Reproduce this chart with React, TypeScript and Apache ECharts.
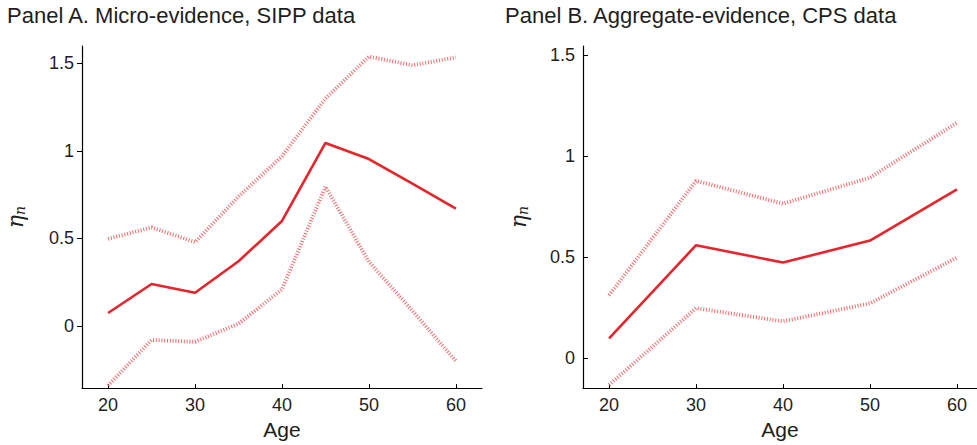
import React, { useEffect, useRef } from "react";
import * as echarts from "echarts";

const agesA = [20, 25, 30, 35, 40, 45, 50, 55, 60];
const estA = [0.074, 0.24, 0.19, 0.37, 0.6, 1.046, 0.954, 0.814, 0.671];
const upperA = [0.498, 0.563, 0.479, 0.74, 0.97, 1.3, 1.54, 1.49, 1.535];
const lowerA = [-0.34, -0.08, -0.09, 0.013, 0.21, 0.796, 0.367, 0.087, -0.2];

const agesB = [20, 30, 40, 50, 60];
const estB = [0.096, 0.558, 0.472, 0.581, 0.835];
const upperB = [0.31, 0.877, 0.764, 0.893, 1.165];
const lowerB = [-0.134, 0.246, 0.181, 0.27, 0.497];

const xTicks = [20, 30, 40, 50, 60];
const yTicks = [0, 0.5, 1, 1.5];

const titleA = "Panel A. Micro-evidence, SIPP data";
const titleB = "Panel B. Aggregate-evidence, CPS data";

const FONT = "'Liberation Sans', Arial, Helvetica, sans-serif";
const TEXT = "#1e1e1e";
const SOLID = "#e8242a";
const DOT = "#f26a6a";

const zip = (xs: number[], ys: number[]) => xs.map((x, i) => [x, ys[i]]);

function xAxis(gridIndex: number, max: number) {
  return {
    type: "value",
    gridIndex,
    min: 17,
    max,
    name: "Age",
    nameLocation: "middle",
    nameGap: 22,
    nameTextStyle: { fontSize: 21, color: TEXT, fontFamily: FONT },
    axisLine: { show: true, onZero: false, lineStyle: { color: "#000", width: 1.2 } },
    axisTick: { show: true, inside: true, length: 4, customValues: xTicks, lineStyle: { color: "#000" } },
    axisLabel: { customValues: xTicks, fontSize: 18, color: TEXT, fontFamily: FONT, margin: 8 },
    splitLine: { show: false },
  };
}

function yAxis(gridIndex: number, min: number, max: number, inside: boolean, gap: number) {
  return {
    type: "value",
    gridIndex,
    min,
    max,
    name: "{e|η}{s|n}",
    nameLocation: "middle",
    nameRotate: 90,
    nameGap: gap,
    nameTextStyle: {
      color: TEXT,
      rich: {
        e: { fontSize: 22, fontStyle: "italic", fontFamily: "'DejaVu Serif', serif", color: TEXT },
        s: { fontSize: 14, fontStyle: "italic", fontFamily: "'DejaVu Serif', serif", color: TEXT, padding: [10, 0, 0, 0] },
      },
    },
    axisLine: { show: true, onZero: false, lineStyle: { color: "#000", width: 1.2 } },
    axisTick: { show: true, inside, length: 5, customValues: yTicks, lineStyle: { color: "#000" } },
    axisLabel: { customValues: yTicks, fontSize: 18, color: TEXT, fontFamily: FONT, margin: 8 },
    splitLine: { show: false },
  };
}

function line(data: number[][], idx: number, dotted: boolean) {
  return {
    type: "line",
    xAxisIndex: idx,
    yAxisIndex: idx,
    data,
    symbol: "none",
    showSymbol: false,
    z: dotted ? 2 : 3,
    lineStyle: dotted
      ? { color: DOT, width: 3.8, type: [1, 1.8] }
      : { color: SOLID, width: 2.6, type: "solid" },
  };
}

export default function App() {
  const ref = useRef<HTMLDivElement>(null);
  useEffect(() => {
    if (!ref.current) return;
    const chart = echarts.init(ref.current, undefined, { renderer: "svg" });
    const ts = { fontSize: 22, fontWeight: "normal", color: TEXT, fontFamily: FONT };
    chart.setOption({
      animation: false,
      backgroundColor: "#fff",
      title: [
        { text: titleA, left: 7, top: 4, padding: 0, textStyle: ts },
        { text: titleB, left: 505, top: 4, padding: 0, textStyle: ts },
      ],
      grid: [
        { left: 82, top: 46, width: 400, height: 350 },
        { left: 583, top: 46, width: 394, height: 349 },
      ],
      xAxis: [xAxis(0, 63), xAxis(1, 62.3)],
      yAxis: [yAxis(0, -0.355, 1.6, false, 55), yAxis(1, -0.15, 1.545, true, 53)],
      series: [
        line(zip(agesA, upperA), 0, true),
        line(zip(agesA, lowerA), 0, true),
        line(zip(agesA, estA), 0, false),
        line(zip(agesB, upperB), 1, true),
        line(zip(agesB, lowerB), 1, true),
        line(zip(agesB, estB), 1, false),
      ],
    });
    return () => chart.dispose();
  }, []);
  return <div ref={ref} style={{ position: "absolute", left: 0, top: 0, width: 977, height: 445 }} />;
}
